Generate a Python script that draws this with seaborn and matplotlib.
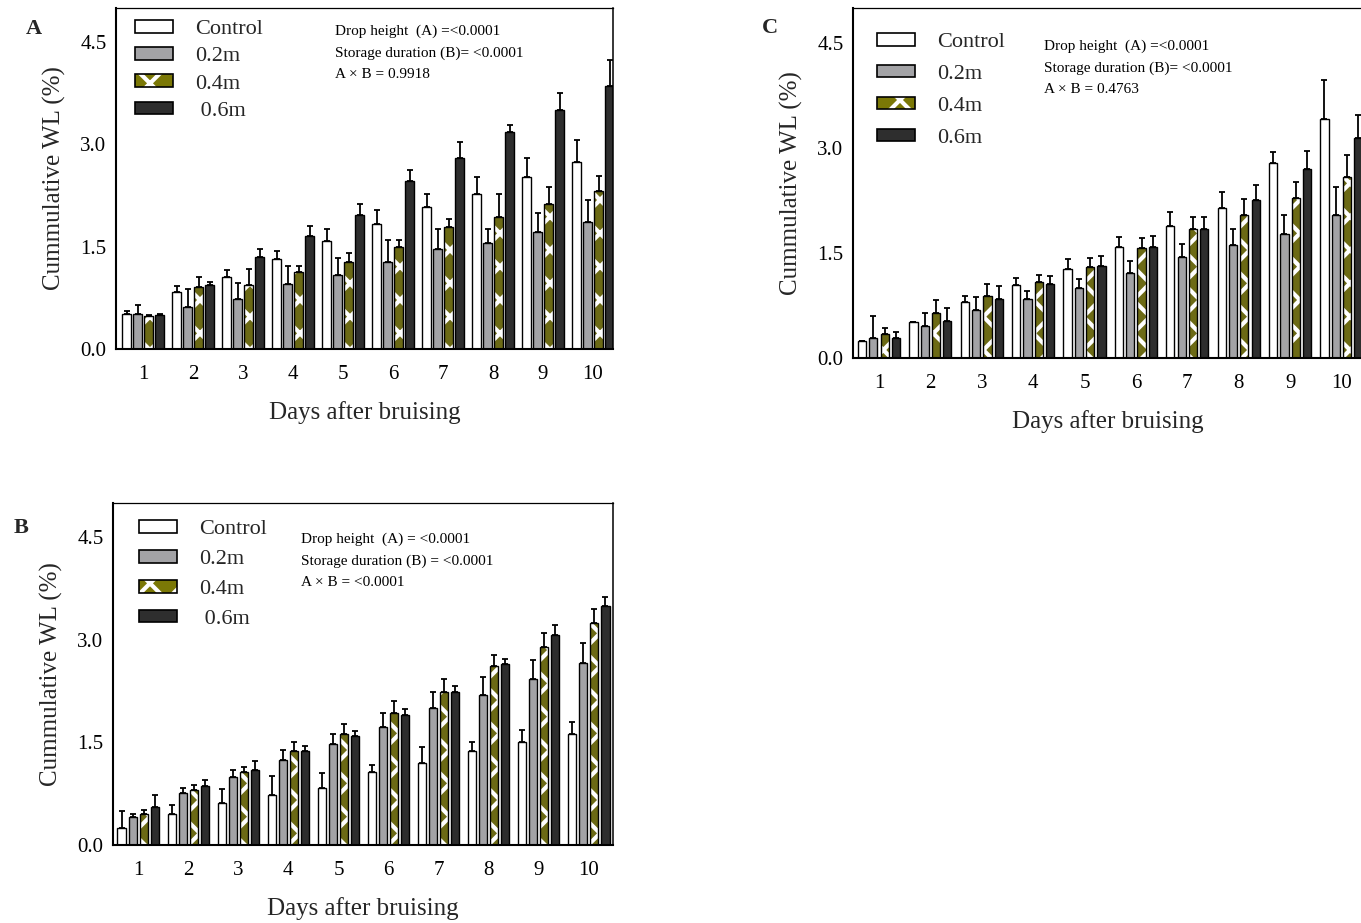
import numpy as np
import pandas as pd
import matplotlib
matplotlib.use("Agg")
import matplotlib.pyplot as plt
from matplotlib.patches import Rectangle, Patch
from matplotlib.legend_handler import HandlerTuple
import seaborn as sns

sns.set_style("white")
plt.rcParams["font.family"] = ["Liberation Serif", "DejaVu Serif"]
plt.rcParams["hatch.linewidth"] = 3.0

# ---------------- data ----------------
days = [1, 2, 3, 4, 5, 6, 7, 8, 9, 10]
groups = ["Control", "0.2m", "0.4m", "0.6m"]

# Panel A: cumulative weight loss (%) and upper error
a_control = [0.51, 0.83, 1.05, 1.32, 1.58, 1.83, 2.08, 2.28, 2.52, 2.74]
a_control_err = [0.04, 0.10, 0.11, 0.11, 0.18, 0.21, 0.20, 0.24, 0.28, 0.32]
a_02 = [0.52, 0.62, 0.74, 0.95, 1.09, 1.28, 1.47, 1.55, 1.72, 1.86]
a_02_err = [0.13, 0.26, 0.23, 0.26, 0.24, 0.32, 0.29, 0.21, 0.28, 0.32]
a_04 = [0.49, 0.91, 0.94, 1.13, 1.27, 1.49, 1.79, 1.93, 2.12, 2.32]
a_04_err = [0.01, 0.14, 0.24, 0.08, 0.14, 0.11, 0.11, 0.35, 0.25, 0.21]
a_06 = [0.50, 0.94, 1.35, 1.66, 1.96, 2.46, 2.80, 3.18, 3.51, 3.86]
a_06_err = [0.01, 0.04, 0.12, 0.15, 0.17, 0.17, 0.23, 0.11, 0.25, 0.38]

# Panel B
b_control = [0.25, 0.45, 0.61, 0.73, 0.84, 1.07, 1.20, 1.38, 1.50, 1.62]
b_control_err = [0.25, 0.13, 0.21, 0.28, 0.21, 0.10, 0.23, 0.13, 0.18, 0.18]
b_02 = [0.41, 0.76, 0.99, 1.24, 1.47, 1.72, 2.01, 2.20, 2.42, 2.66]
b_02_err = [0.04, 0.08, 0.11, 0.15, 0.15, 0.21, 0.23, 0.25, 0.28, 0.29]
b_04 = [0.46, 0.81, 1.07, 1.38, 1.62, 1.93, 2.24, 2.61, 2.90, 3.25]
b_04_err = [0.05, 0.07, 0.07, 0.12, 0.15, 0.17, 0.18, 0.17, 0.20, 0.20]
b_06 = [0.55, 0.86, 1.10, 1.37, 1.59, 1.90, 2.23, 2.64, 3.07, 3.49]
b_06_err = [0.18, 0.09, 0.13, 0.08, 0.08, 0.09, 0.10, 0.08, 0.14, 0.14]

# Panel C
c_control = [0.25, 0.52, 0.80, 1.04, 1.27, 1.58, 1.89, 2.15, 2.79, 3.42]
c_control_err = [0.00, 0.00, 0.08, 0.11, 0.14, 0.15, 0.19, 0.22, 0.15, 0.55]
c_02 = [0.28, 0.46, 0.68, 0.84, 1.00, 1.22, 1.44, 1.61, 1.77, 2.04]
c_02_err = [0.32, 0.19, 0.19, 0.12, 0.13, 0.17, 0.19, 0.23, 0.27, 0.40]
c_04 = [0.35, 0.65, 0.88, 1.08, 1.30, 1.57, 1.84, 2.05, 2.28, 2.58]
c_04_err = [0.08, 0.18, 0.18, 0.10, 0.13, 0.15, 0.18, 0.22, 0.23, 0.32]
c_06 = [0.29, 0.53, 0.84, 1.06, 1.32, 1.58, 1.84, 2.26, 2.70, 3.15]
c_06_err = [0.08, 0.18, 0.19, 0.11, 0.14, 0.17, 0.18, 0.21, 0.26, 0.32]

a_stats = ["Drop height  (A) =<0.0001", "Storage duration (B)= <0.0001", "A \u00d7 B = 0.9918"]
b_stats = ["Drop height  (A) = <0.0001", "Storage duration (B) = <0.0001", "A \u00d7 B = <0.0001"]
c_stats = ["Drop height  (A) =<0.0001", "Storage duration (B)= <0.0001", "A \u00d7 B = 0.4763"]

ab_labels = ["Control", "0.2m", "0.4m", " 0.6m"]
c_labels = ["Control", "0.2m", "0.4m", "0.6m"]

# ---------------- style ----------------
colors = {"Control": "#ffffff", "0.2m": "#a3a3a6", "0.4m": "#7b7806", "0.6m": "#2e2e2e"}
W, H = 1361, 923


def long_table(means):
    rows = []
    for g, m in zip(groups, means):
        for d, v in zip(days, m):
            rows.append({"day": d, "group": g, "value": v})
    return pd.DataFrame(rows)


def px_rect(left, top, right, bottom):
    return [left / W, 1 - bottom / H, (right - left) / W, (bottom - top) / H]


def draw_panel(fig, rect, xlim, means, errs, stats, labels, letter, letter_xy,
               stats_xy, legend_xy, legend_spacing):
    ax = fig.add_axes(rect)
    df = long_table(means)
    sns.barplot(data=df, x="day", y="value", hue="group", hue_order=groups,
                palette=colors, width=0.88, gap=0.27, edgecolor="black",
                linewidth=1.0, errorbar=None, legend=False, ax=ax, zorder=2)

    # patterned 0.4m bars: white cross-hatch on olive, black outline on top
    for p in ax.containers[2]:
        p.set_hatch("x")
        p.set_edgecolor("white")
        p.set_linewidth(0)
        ax.add_patch(Rectangle(p.get_xy(), p.get_width(), p.get_height(),
                               fill=False, edgecolor="black", linewidth=1.0,
                               zorder=2.5))

    # upper-only error bars
    for cont, e in zip(ax.containers, errs):
        xs = [p.get_x() + p.get_width() / 2 for p in cont]
        hs = [p.get_height() for p in cont]
        ax.errorbar(xs, hs, yerr=[np.zeros(len(e)), e], fmt="none",
                    ecolor="black", elinewidth=1.3, capsize=2.2,
                    capthick=1.3, zorder=3)

    ax.set_xlim(*xlim)
    ax.set_ylim(0, 5.0)
    ax.set_yticks([0.0, 1.5, 3.0, 4.5])
    ax.set_yticklabels(["0.0", "1.5", "3.0", "4.5"])
    ax.set_xticks(range(len(days)))
    ax.set_xticklabels([str(d) for d in days])
    ax.tick_params(axis="both", direction="out", length=3.8, width=1.3,
                   labelsize=15, colors="black", pad=3)
    ax.tick_params(axis="x", pad=8)
    ax.set_xlabel("Days after bruising", fontsize=18, labelpad=12)
    ax.set_ylabel("Cummulative WL (%)", fontsize=18, labelpad=10)

    for side in ax.spines:
        ax.spines[side].set_visible(True)
        ax.spines[side].set_color("black")
    ax.spines["left"].set_linewidth(1.5)
    ax.spines["bottom"].set_linewidth(1.5)
    ax.spines["top"].set_linewidth(0.9)
    ax.spines["right"].set_linewidth(1.1)

    # legend
    handles = []
    for g in groups:
        if g == "0.4m":
            handles.append((Patch(facecolor=colors[g], edgecolor="white",
                                  hatch="x", linewidth=0),
                            Patch(fill=False, edgecolor="black", linewidth=1.2)))
        else:
            handles.append(Patch(facecolor=colors[g], edgecolor="black",
                                 linewidth=1.2))
    ax.legend(handles, labels, loc="upper left", bbox_to_anchor=legend_xy,
              frameon=False, fontsize=16, handlelength=1.7, handleheight=0.5,
              handletextpad=1.0, labelspacing=legend_spacing, borderpad=0,
              borderaxespad=0, handler_map={tuple: HandlerTuple(ndivide=1)})

    ax.text(stats_xy[0], stats_xy[1], "\n".join(stats), transform=ax.transAxes,
            fontsize=11, va="top", ha="left", linespacing=1.78, color="black")
    fig.text(letter_xy[0] / W, 1 - letter_xy[1] / H, letter, fontsize=16,
             fontweight="bold", ha="center", va="center")
    return ax


fig = plt.figure(figsize=(W / 100, H / 100), dpi=100)

draw_panel(fig, px_rect(116, 8, 613, 349), (-0.54, 9.4),
           [a_control, a_02, a_04, a_06],
           [a_control_err, a_02_err, a_04_err, a_06_err],
           a_stats, ab_labels, "A", (34, 29), (0.44, 0.951), (0.038, 0.965), 0.36)

draw_panel(fig, px_rect(113, 503, 613, 845), (-0.5, 9.48),
           [b_control, b_02, b_04, b_06],
           [b_control_err, b_02_err, b_04_err, b_06_err],
           b_stats, ab_labels, "B", (21, 528), (0.376, 0.913), (0.052, 0.95), 0.48)

draw_panel(fig, px_rect(853, 8, 1362, 358), (-0.506, 9.4),
           [c_control, c_02, c_04, c_06],
           [c_control_err, c_02_err, c_04_err, c_06_err],
           c_stats, c_labels, "C", (770, 28), (0.375, 0.909), (0.047, 0.929), 0.57)

fig.savefig("out.png", dpi=100, facecolor="white")
